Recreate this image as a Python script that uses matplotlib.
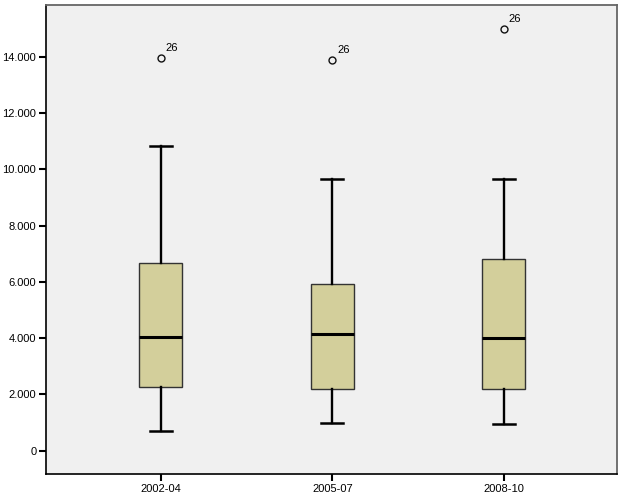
import matplotlib
matplotlib.use("Agg")
import matplotlib.pyplot as plt
from matplotlib.ticker import FuncFormatter

categories = ["2002-04", "2005-07", "2008-10"]
whislo = [690, 980, 960]
q1 = [2270, 2200, 2180]
med = [4030, 4140, 4020]
q3 = [6680, 5920, 6800]
whishi = [10840, 9660, 9660]
outliers = [13950, 13880, 14980]
outlier_labels = ["26", "26", "26"]
yticks = [0, 2000, 4000, 6000, 8000, 10000, 12000, 14000]

plt.rcParams['font.family'] = ['Liberation Sans', 'DejaVu Sans']

fig = plt.figure(figsize=(6.25, 5), dpi=100)
ax = fig.add_axes([46/625, 26/500, 571/625, 469.3/500])
ax.set_facecolor('#F0F0F0')

stats = []
for i, c in enumerate(categories):
    stats.append(dict(label=c, whislo=whislo[i], q1=q1[i], med=med[i], q3=q3[i],
                      whishi=whishi[i], fliers=[outliers[i]]))
pos = list(range(1, len(categories) + 1))
ax.bxp(stats, positions=pos, widths=0.25, patch_artist=True, showfliers=True,
       boxprops=dict(facecolor='#D3CF9B', edgecolor='#333333', linewidth=1.0),
       medianprops=dict(color='black', linewidth=2.2),
       whiskerprops=dict(color='black', linewidth=1.7),
       capprops=dict(color='black', linewidth=1.8),
       capwidths=0.127,
       flierprops=dict(marker='o', markersize=5, markerfacecolor='none',
                       markeredgecolor='#111111', markeredgewidth=1.0))

for p, o, lab in zip(pos, outliers, outlier_labels):
    ax.annotate(lab, (p, o), xytext=(3.5, 3.5), textcoords='offset points',
                fontsize=8, color='black', ha='left', va='bottom')

ax.set_xlim(0.33, 3.66)
ax.set_ylim(-828, 15844)
ax.set_yticks(yticks)
ax.yaxis.set_major_formatter(FuncFormatter(lambda v, p: f"{int(v):,}".replace(",", ".")))
ax.set_xticks(pos)
ax.set_xticklabels(categories)
ax.tick_params(axis='both', labelsize=8, length=5, width=1.5, color='black', pad=2)
for s in ['left', 'bottom']:
    ax.spines[s].set_color('black')
    ax.spines[s].set_linewidth(1.2)
for s in ['top', 'right']:
    ax.spines[s].set_color('#666666')
    ax.spines[s].set_linewidth(1.3)

fig.savefig('out.png', dpi=100, facecolor='white')
